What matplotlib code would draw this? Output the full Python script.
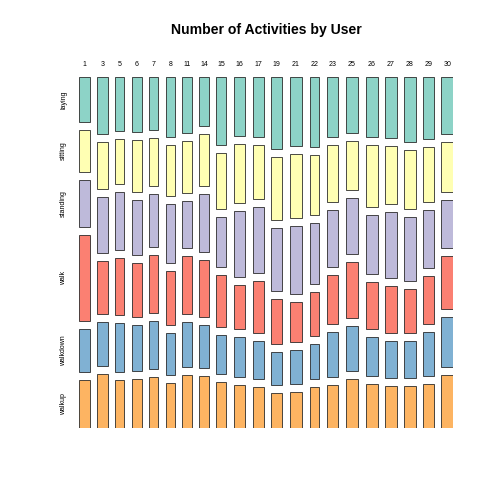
import matplotlib.pyplot as plt
from matplotlib.patches import Rectangle

plt.rcParams["font.family"] = ["Liberation Sans", "DejaVu Sans"]

users = [1, 3, 5, 6, 7, 8, 11, 14, 15, 16, 17, 19, 21, 22, 23, 25, 26, 27, 28, 29, 30]
activities = ["laying", "sitting", "standing", "walk", "walkdown", "walkup"]

# counts per user, one list per activity
laying = [50, 62, 52, 57, 52, 54, 57, 51, 72, 70, 71, 83, 90, 72, 72, 73, 76, 74, 80, 69, 70]
sitting = [47, 52, 44, 55, 48, 46, 53, 54, 59, 69, 64, 73, 85, 62, 68, 65, 78, 70, 72, 60, 62]
standing = [53, 61, 56, 57, 53, 54, 47, 60, 53, 78, 78, 73, 89, 63, 68, 74, 74, 80, 79, 65, 59]
walk = [95, 58, 56, 57, 57, 48, 59, 59, 54, 51, 61, 52, 52, 46, 59, 74, 59, 57, 54, 53, 65]
walkdown = [49, 49, 47, 48, 47, 38, 46, 45, 42, 47, 46, 39, 45, 36, 54, 58, 50, 44, 46, 48, 62]
walkup = [53, 59, 47, 51, 51, 41, 54, 54, 48, 51, 48, 40, 47, 42, 51, 65, 55, 51, 51, 49, 65]

colors = ["#8DD3C7", "#FFFFB3", "#BEBADA", "#FB8072", "#80B1D3", "#FDB462"]

counts = [laying, sitting, standing, walk, walkdown, walkup]
totals = [sum(c[i] for c in counts) for i in range(len(users))]
grand = sum(totals)

fig = plt.figure(figsize=(7, 7), dpi=72)
# plot region in pixels: x 79..453, y 77..428
ax = fig.add_axes([79 / 504, (504 - 428) / 504, 374 / 504, 351 / 504])
ax.set_xlim(0, 1)
ax.set_ylim(1, 0)
ax.axis("off")

hgap = 7.4 / 374
vgap = 8.0 / 351
wtot = 1 - hgap * (len(users) - 1)
htot = 1 - vgap * (len(activities) - 1)

x = 0
for i, u in enumerate(users):
    w = totals[i] / grand * wtot
    y = 0
    for j in range(len(activities)):
        h = counts[j][i] / totals[i] * htot
        ax.add_patch(Rectangle((x, y), w, h, facecolor=colors[j],
                               edgecolor="#222222", linewidth=0.8))
        if i == 0:
            ax.text(-15.5 / 374, y + h / 2, activities[j], rotation=90,
                    ha="center", va="center", fontsize=7, clip_on=False)
        y += h + vgap
    ax.text(x + w / 2, -13 / 351, str(u), ha="center", va="center",
            fontsize=7, clip_on=False)
    x += w + hgap

fig.text(266 / 504, 1 - 30 / 504, "Number of Activities by User",
         ha="center", va="center", fontsize=14, fontweight="bold")

fig.savefig("out.png", dpi=72)
